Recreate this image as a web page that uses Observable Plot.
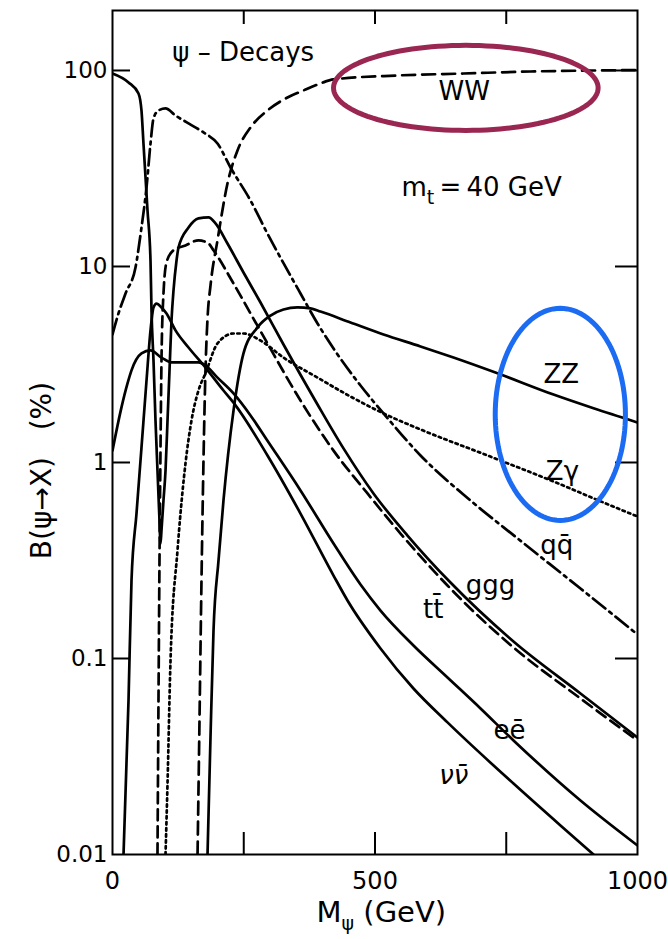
<!DOCTYPE html>
<html><head><meta charset="utf-8">
<script src="https://cdn.jsdelivr.net/npm/d3@7"></script>
<script src="https://cdn.jsdelivr.net/npm/@observablehq/plot@0.6"></script>
<style>
html,body{margin:0;padding:0;background:#fff;}
#chart svg{display:block;}
#chart svg [aria-label="x-axis tick label"]{font-size:24px;}
#chart svg [aria-label="y-axis tick label"]{font-size:23px;}
</style>
</head><body><div id="chart"></div>
<script>
// ---- data (M_psi in GeV, branching ratio in %) ----
const WW_M = [162,165.7,169.5,173.3,177.1,181,186.7,200,219,238.1,262.9,295.2,333.3,363.8,396.2,421,542.9,668.6,796.2,923.8,1000];
const WW_B = [0.01,0.0483,0.25,1.02,2.95,5.43,8.0,13.6,26.5,39.1,51.2,62.5,72.8,79.1,85.9,90,94.3,96.5,98.8,100,100.5];

const QQ_M = [0,11.4,24.8,43.8,55.2,64.8,72.4,78.1,87.6,101,120,144.8,173.3,200,224.8,262.9,295.2,325.7,358.1,390.5,421,472.4,516.2,586.7,681.9,771.4,891.4,1000];
const QQ_B = [4.5,5.76,7.28,9.88,15.8,25.3,42.4,56.9,62.5,64,58.9,53.7,48.3,42.4,32,21.7,14.7,10.4,7.28,5.12,3.815,2.47,1.78,1.086,0.64,0.41,0.2275,0.1326];

const GGG_M = [0,30.5,49.5,55.2,59,62.9,66.7,72.4,74.3,78.1,81.9,85.7,89.5,91.4,93.3,97.1,101,104.8,108.6,112.4,116.2,121.9,125.7,144.8,163.8,182.9,196.2,219,249.5,281.9,325.7,390.5,440,497.1,561.9,643.8,763.8,891.4,1000];
const GGG_B = [96.5,86.9,76.3,62.5,42.4,28.5,19.3,10.7,5.96,3.31,1.64,0.91,0.506,0.386,0.45,0.64,0.91,1.64,2.95,5.30,7.54,10.7,12.5,15.8,17.6,17.8,16.6,13.1,9.32,6.55,4.0,1.977,1.18,0.695,0.424,0.244,0.1221,0.0663,0.0395];

const TT_M = [85.7,87.6,89.5,91.4,93.3,97.1,102.9,116.2,139,163.8,182.9,192.4,230.5,262.9,295.2,358.1,421,485.7,548.6,611.4,638.1,763.8,891.4,1000];
const TT_B = [0.01,0.0611,0.316,1.15,3.31,7.28,10.5,12.1,12.8,13.6,13.1,12.1,8.19,5.76,4.05,2.07,1.15,0.695,0.434,0.281,0.2357,0.1138,0.0625,0.0382];

const EE_M = [0,17.1,28.6,36.2,55.2,72.4,93.3,112.4,139,163.8,177.1,200,230.5,262.9,295.2,358.1,421,472.4,510.5,573.3,638.1,701,763.8,891.4,1000];
const EE_B = [1.15,1.91,2.53,2.95,3.60,3.73,3.43,3.24,3.24,3.24,3.13,2.71,2.25,1.737,1.29,0.72,0.386,0.2385,0.1757,0.1165,0.080,0.0556,0.0382,0.01886,0.01112];

const NN_M = [21,30.5,36.2,45.7,55.2,64.8,72.4,78.1,83.8,93.3,102.9,120,144.8,177.1,211.4,230.5,295.2,358.1,421,447.6,510.5,573.3,638.1,763.8,853.3,916.2];
const NN_B = [0.01,0.0611,0.25,0.549,1.19,2.62,4.72,6.18,6.47,6.18,5.76,4.72,3.86,3.05,2.33,2.02,1.086,0.549,0.265,0.1977,0.1125,0.0703,0.0472,0.0230,0.01406,0.01];

const ZZ_M = [181,186.7,192.4,201.9,211.4,230.5,249.5,276.2,301,325.7,352.4,377,396.2,453.3,516.2,586.7,649.5,733.3,840,916.2,1000];
const ZZ_B = [0.01,0.04,0.139,0.316,0.64,1.84,3.6,4.89,5.62,6.03,6.18,6.11,5.89,5.18,4.50,3.91,3.43,2.85,2.22,1.89,1.60];

const ZG_M = [101,104.8,110.5,123.8,129.5,139,150.5,163.8,177.1,200,230.5,249.5,281.9,325.7,390.5,453.3,516.2,586.7,714.3,840,935.2,1000];
const ZG_B = [0.01,0.023,0.0977,0.356,0.549,0.988,1.64,2.33,2.85,4.05,4.55,4.55,4.19,3.43,2.71,2.17,1.78,1.474,1.086,0.80,0.625,0.530];

// tick values
const X_LABEL_TICKS = [0,500,1000];
const X_MARK_TICKS = [250,500,750];
const Y_LABEL_TICKS = [0.01,0.1,1,10,100];
const Y_MARK_TICKS = [0.1,1,10,100];

// in-plot labels
const LABEL_TEXT = ["ψ – Decays","WW","m_t\u2009=\u200940 GeV","ZZ","Zγ","qq\u0304","ggg","tt\u0304","eē"];
const LABEL_M = [249,670,703,855,857,846,720,611,756];
const LABEL_B = [123.6,78.2,25.3,2.81,0.899,0.378,0.236,0.178,0.043];
const NU_TEXT = ["νν\u0304"];
const NU_M = [650];
const NU_B = [0.0253];

// axis titles (placed in data units, outside the frame)
const X_TITLE = ["M_ψ (GeV)"];
const X_TITLE_M = [512];
const X_TITLE_B = [0.00506];
const Y_TITLE = ["B(ψ→X)\u00a0\u00a0\u00a0(%)"];
const Y_TITLE_M = [-135];
const Y_TITLE_B = [0.91];

// highlight ellipses: centre (GeV, %), half-width (GeV), half-height (decades)
const ELL_CM = [673, 853];
const ELL_CB = [81.5, 1.76];
const ELL_RM = [252, 124];
const ELL_RD = [0.217, 0.541];

// ---- build ----
const rows = (M, B) => M.map((m, i) => ({m, b: B[i]}));
const ellipse = (k) => d3.range(0, 121).map(j => {
  const t = j / 120 * 2 * Math.PI;
  return {m: ELL_CM[k] + ELL_RM[k] * Math.cos(t), b: ELL_CB[k] * Math.pow(10, ELL_RD[k] * Math.sin(t))};
});
const mk = (T, M, B) => T.map((t, i) => ({t, m: M[i], b: B[i]}));

const W = 668, H = 939, ML = 112, MR = 31, MT = 10, MB = 85;
const PW = W - ML - MR, PH = H - MT - MB;
const sw = 2.7;
const lineOpts = (extra) => Object.assign({x: "m", y: "b", stroke: "black", strokeWidth: sw, curve: "monotone-x", clip: true}, extra);

const plot = Plot.plot({
  width: W, height: H,
  marginLeft: ML, marginRight: MR, marginTop: MT, marginBottom: MB,
  style: {fontFamily: "DejaVu Sans", fontSize: "24px", color: "black", background: "white"},
  x: {domain: [0, 1000]},
  y: {type: "log", domain: [0.01, 202.3]},
  marks: [
    Plot.axisX({ticks: X_LABEL_TICKS, tickSize: 0, tickPadding: 17, label: null, tickFormat: d => String(d)}),
    Plot.axisY({ticks: Y_LABEL_TICKS, tickSize: 0, tickPadding: 5, label: null, tickFormat: d => String(d)}),
    Plot.tickY(Y_MARK_TICKS, {y: d => d, insetRight: PW - 18, strokeWidth: 2}),
    Plot.tickY(Y_MARK_TICKS, {y: d => d, insetLeft: PW - 22, strokeWidth: 2}),
    Plot.tickX(X_MARK_TICKS, {x: d => d, insetTop: PH - 22, strokeWidth: 2}),
    Plot.tickX(X_MARK_TICKS, {x: d => d, insetBottom: PH - 14, strokeWidth: 2}),
    Plot.line(rows(QQ_M, QQ_B), lineOpts({strokeDasharray: "16,5,3,5"})),
    Plot.line(rows(WW_M, WW_B), lineOpts({strokeDasharray: "13,7"})),
    Plot.line(rows(TT_M, TT_B), lineOpts({strokeDasharray: "11,6"})),
    Plot.line(rows(ZG_M, ZG_B), lineOpts({strokeDasharray: "2.4,3.6"})),
    Plot.line(rows(GGG_M, GGG_B), lineOpts({})),
    Plot.line(rows(EE_M, EE_B), lineOpts({})),
    Plot.line(rows(NN_M, NN_B), lineOpts({})),
    Plot.line(rows(ZZ_M, ZZ_B), lineOpts({})),
    Plot.line(ellipse(0), {x: "m", y: "b", stroke: "#9a2652", strokeWidth: 5, curve: "linear-closed"}),
    Plot.line(ellipse(1), {x: "m", y: "b", stroke: "#1b6cf2", strokeWidth: 5, curve: "linear-closed"}),
    Plot.text(mk(LABEL_TEXT, LABEL_M, LABEL_B), {x: "m", y: "b", text: "t", fontSize: 26, fill: "black"}),
    Plot.text(mk(NU_TEXT, NU_M, NU_B), {x: "m", y: "b", text: "t", fontSize: 26, fontStyle: "italic", fill: "black"}),
    Plot.text(mk(X_TITLE, X_TITLE_M, X_TITLE_B), {x: "m", y: "b", text: "t", fontSize: 29, fill: "black"}),
    Plot.text(mk(Y_TITLE, Y_TITLE_M, Y_TITLE_B), {x: "m", y: "b", text: "t", rotate: -90, fontSize: 28, fill: "black"}),
    Plot.frame({stroke: "black", strokeWidth: 2})
  ]
});

// subscripts written as "a_b" in the text
const NS = "http://www.w3.org/2000/svg";
plot.querySelectorAll("text").forEach(el => {
  const s = el.textContent;
  const i = s.indexOf("_");
  if (i < 0) return;
  const a = document.createElementNS(NS, "tspan"); a.textContent = s.slice(0, i);
  const b = document.createElementNS(NS, "tspan"); b.textContent = s.slice(i + 1, i + 2);
  b.setAttribute("dy", "8"); b.setAttribute("font-size", "19");
  const c = document.createElementNS(NS, "tspan"); c.textContent = s.slice(i + 2);
  c.setAttribute("dy", "-8");
  el.textContent = "";
  el.append(a, b, c);
});

document.getElementById("chart").appendChild(plot);
</script>
</body></html>
